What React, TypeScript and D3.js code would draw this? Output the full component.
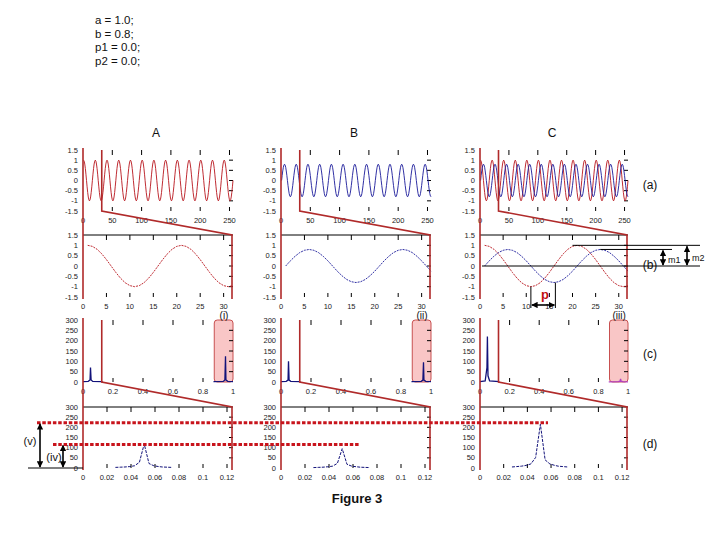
import * as d3 from 'd3';

const paramLines = ['a = 1.0;', 'b = 0.8;', 'p1 = 0.0;', 'p2 = 0.0;'];
const columnTitles = ['A', 'B', 'C'];
const rowTags = ['(a)', '(b)', '(c)', '(d)'];
const windowTags = ['(i)', '(ii)', '(iii)'];

// one period (20 samples) of each signal (b)
const redCycle = [1, 0.95, 0.81, 0.59, 0.31, 0, -0.31, -0.59, -0.81, -0.95, -1, -0.95, -0.81, -0.59, -0.31, 0, 0.31, 0.59, 0.81, 0.95];
const blueCycle = [0, 0.25, 0.47, 0.65, 0.76, 0.8, 0.76, 0.65, 0.47, 0.25, 0, -0.25, -0.47, -0.65, -0.76, -0.8, -0.76, -0.65, -0.47, -0.25];
const sampleCount = 256;
const zoomCount = 32;

const timeTicks = [0, 50, 100, 150, 200, 250];
const zoomTimeTicks = [0, 5, 10, 15, 20, 25, 30];
const ampTicks = [-1.5, -1, -0.5, 0, 0.5, 1, 1.5];
const freqTicks = [0, 0.2, 0.4, 0.6, 0.8, 1];
const zoomFreqTicks = [0, 0.02, 0.04, 0.06, 0.08, 0.1, 0.12];
const magTicks = [0, 50, 100, 150, 200, 250, 300];

// spectrum, coarse view (c)
const lowFreqs = [0, 0.035, 0.047, 0.05, 0.054, 0.065, 0.13];
const highFreqs = [0.87, 0.935, 0.946, 0.95, 0.953, 0.965, 1];
const lowMagA = [2, 3, 10, 70, 10, 3, 2];
const lowMagB = [2, 3, 9, 100, 9, 3, 2];
const lowMagC = [2, 5, 70, 220, 30, 5, 2];
const highMagA = [2, 3, 10, 125, 10, 3, 2];
const highMagB = [2, 3, 9, 95, 9, 3, 2];
const highMagC = [1, 2, 4, 15, 4, 2, 1];

// spectrum, zoomed view (d)
const peakFreqs = [0.027, 0.031, 0.035, 0.039, 0.043, 0.047, 0.051, 0.055, 0.059, 0.063, 0.066, 0.07, 0.074];
const peakMagA = [3, 4, 5, 7, 11, 28, 118, 22, 11, 7, 5, 4, 3];
const peakMagB = [2, 3, 4, 6, 9, 23, 95, 18, 9, 6, 4, 3, 2];
const peakMagC = [5, 7, 9, 13, 20, 52, 215, 40, 20, 13, 9, 7, 5];

const levelV = 222;
const levelIV = 116;

const colLeft = [83, 281, 480];
const colWidth = [150, 150, 148];
const rowTop = [150, 235, 320, 407];
const rowBottom = [211, 297, 382, 468];

const RED = '#b8141c';
const BLUE = '#1a1a9a';
const SPEC = '#12127a';
const LINK = '#b02a2a';
const tickFont = { fontFamily: 'Liberation Sans, Arial, sans-serif', fontSize: 7.5, fill: '#222' };
const labelFont = { fontFamily: 'Liberation Sans, Arial, sans-serif', fontSize: 12, fill: '#111' };

const redSeries = Array.from({ length: sampleCount }, (_, i) => redCycle[i % redCycle.length]);
const blueSeries = Array.from({ length: sampleCount }, (_, i) => blueCycle[i % blueCycle.length]);

type Scale = d3.ScaleLinear<number, number>;

function Axes({ x, y, xTicks, yTicks, topLine }: { x: Scale; y: Scale; xTicks: number[]; yTicks: number[]; topLine: boolean }) {
    const [x0, x1] = x.range();
    const [y0, y1] = y.range();
    const [d0, d1] = x.domain();
    const [v0, v1] = y.domain();
    return (
        <g>
            {topLine && <line x1={x0} x2={x1} y1={y1} y2={y1} stroke="#000" strokeWidth={1} />}
            {xTicks.map((t) => (
                <g key={'x' + t}>
                    {t > d0 && t < d1 && (
                        <>
                            <line x1={x(t)} x2={x(t)} y1={y1} y2={y1 + 5} stroke="#000" />
                            <line x1={x(t)} x2={x(t)} y1={y0} y2={y0 - 4} stroke="#000" />
                        </>
                    )}
                    <text x={x(t)} y={y0 + 12} textAnchor="middle" {...tickFont}>
                        {String(t)}
                    </text>
                </g>
            ))}
            {yTicks.map((t) => (
                <g key={'y' + t}>
                    {t > v0 && t < v1 && <line x1={x1 - 4} x2={x1} y1={y(t)} y2={y(t)} stroke="#000" />}
                    <text x={x0 - 5} y={y(t) + 2.5} textAnchor="end" {...tickFont}>
                        {String(t)}
                    </text>
                </g>
            ))}
        </g>
    );
}

export default function App() {
    const lowMags = [lowMagA, lowMagB, lowMagC];
    const highMags = [highMagA, highMagB, highMagC];
    const peakMags = [peakMagA, peakMagB, peakMagC];
    const signals = [[{ v: redSeries, c: RED }], [{ v: blueSeries, c: BLUE }], [{ v: redSeries, c: RED }, { v: blueSeries, c: BLUE }]];

    const yAmp = [0, 1].map((r) => d3.scaleLinear().domain([-1.5, 1.5]).range([rowBottom[r], rowTop[r]]));
    const yMag = [2, 3].map((r) => d3.scaleLinear().domain([0, 300]).range([rowBottom[r], rowTop[r]]));

    const columns = columnTitles.map((title, ci) => {
        const l = colLeft[ci];
        const r = l + colWidth[ci];
        const xa = d3.scaleLinear().domain([0, sampleCount]).range([l, r]);
        const xb = d3.scaleLinear().domain([0, zoomCount]).range([l, r]);
        const xc = d3.scaleLinear().domain([0, 1]).range([l, r]);
        const xd = d3.scaleLinear().domain([0, 0.125]).range([l, r]);

        const lineA = d3.line<number>().x((_, i) => xa(i + 1)).y((d) => yAmp[0](d));
        const lineB = d3.line<number>().x((_, i) => xb(i + 1)).y((d) => yAmp[1](d));
        const lineLow = d3.line<number>().x((_, i) => xc(lowFreqs[i])).y((d) => yMag[0](d));
        const lineHigh = d3.line<number>().x((_, i) => xc(highFreqs[i])).y((d) => yMag[0](d));
        const lineD = d3.line<number>().x((_, i) => xd(peakFreqs[i])).y((d) => yMag[1](d));

        return (
            <g key={title}>
                <text x={(l + r) / 2 - 2} y={137} textAnchor="middle" {...labelFont}>
                    {title}
                </text>

                {/* row (a) */}
                <Axes x={xa} y={yAmp[0]} xTicks={timeTicks} yTicks={ampTicks} topLine={false} />
                {signals[ci].map((s, k) => (
                    <path key={k} d={lineA(s.v) ?? ''} fill="none" stroke={s.c} strokeWidth={0.9} />
                ))}

                {/* row (b) */}
                <Axes x={xb} y={yAmp[1]} xTicks={zoomTimeTicks} yTicks={ampTicks} topLine />
                {signals[ci].map((s, k) => (
                    <path key={k} d={lineB(s.v.slice(0, zoomCount)) ?? ''} fill="none" stroke={s.c} strokeWidth={0.9} strokeDasharray="2 1" />
                ))}

                {/* row (c) */}
                <rect x={xc(0.875)} y={rowTop[2]} width={xc(1) - xc(0.875)} height={rowBottom[2] - rowTop[2]} rx={3} fill="#f9c6c6" stroke="#c85050" strokeWidth={1} />
                <Axes x={xc} y={yMag[0]} xTicks={freqTicks} yTicks={magTicks} topLine={false} />
                <path d={lineLow(lowMags[ci]) ?? ''} fill="none" stroke={SPEC} strokeWidth={1.3} />
                <path d={lineHigh(highMags[ci]) ?? ''} fill="none" stroke={ci === 2 ? '#b040c0' : SPEC} strokeWidth={1.3} />
                <text x={xc(0.94)} y={rowTop[2] - 1} textAnchor="middle" {...labelFont} fontSize={10}>
                    {windowTags[ci]}
                </text>

                {/* row (d) */}
                <Axes x={xd} y={yMag[1]} xTicks={zoomFreqTicks} yTicks={magTicks} topLine />
                <path d={lineD(peakMags[ci]) ?? ''} fill="none" stroke={SPEC} strokeWidth={1} strokeDasharray="3 1.2" />

                {/* zoom links, time */}
                <g fill="none" stroke={LINK} strokeWidth={1.6}>
                    <line x1={l} x2={l} y1={rowTop[0] - 2} y2={rowBottom[1] + 2} />
                    <polyline points={`${xa(zoomCount)},${rowTop[0]} ${xa(zoomCount)},${rowBottom[0]} ${r - 1},${rowTop[1]} ${r - 1},${rowBottom[1] + 2}`} />
                    <line x1={l} x2={l} y1={rowTop[2] - 2} y2={rowBottom[3] + 2} />
                    <polyline points={`${xc(0.125)},${rowTop[2]} ${xc(0.125)},${rowBottom[2]} ${r - 1},${rowTop[3]} ${r - 1},${rowBottom[3] + 2}`} />
                </g>
            </g>
        );
    });

    // annotations on column C, row (b)
    const cl = colLeft[2];
    const xbC = d3.scaleLinear().domain([0, zoomCount]).range([cl, cl + colWidth[2]]);
    const yb = yAmp[1];
    const yd = yMag[1];

    return (
        <svg width={720} height={540} style={{ display: 'block', position: 'absolute', left: 0, top: 0, background: '#fff' }}>
            <defs>
                <marker id="ah" viewBox="0 0 10 10" refX="9" refY="5" markerWidth="4" markerHeight="4" orient="auto-start-reverse">
                    <path d="M0,0 L10,5 L0,10 z" fill="#000" />
                </marker>
            </defs>

            {paramLines.map((t, i) => (
                <text key={t} x={95} y={24 + i * 13.7} fontFamily="Liberation Sans, Arial, sans-serif" fontSize={11.5} fill="#111">
                    {t}
                </text>
            ))}

            {columns}

            {rowTags.map((t, i) => (
                <text key={t} x={650} y={[189, 269, 358, 448][i]} textAnchor="middle" {...labelFont}>
                    {t}
                </text>
            ))}

            <g stroke="#000" strokeWidth={1}>
                <line x1={xbC(20)} x2={700} y1={yb(1)} y2={yb(1)} />
                <line x1={xbC(26)} x2={672} y1={yb(0.8)} y2={yb(0.8)} />
                <line x1={cl + 2} x2={700} y1={yb(0)} y2={yb(0)} />
                <line x1={xbC(11)} x2={xbC(11)} y1={yb(-1)} y2={308} />
                <line x1={xbC(16.3)} x2={xbC(16.3)} y1={yb(-0.8)} y2={308} />
                <line x1={xbC(11) + 1} x2={xbC(16.3) - 1} y1={305} y2={305} strokeWidth={1.6} markerStart="url(#ah)" markerEnd="url(#ah)" />
                <line x1={663} x2={663} y1={yb(0.8) + 1} y2={yb(0) - 1} strokeWidth={1.6} markerStart="url(#ah)" markerEnd="url(#ah)" />
                <line x1={687} x2={687} y1={yb(1) + 1} y2={yb(0) - 1} strokeWidth={1.6} markerStart="url(#ah)" markerEnd="url(#ah)" />
            </g>
            <text x={668} y={263} fontFamily="Liberation Sans, Arial, sans-serif" fontSize={9} fill="#111">
                m1
            </text>
            <text x={692} y={261} fontFamily="Liberation Sans, Arial, sans-serif" fontSize={9} fill="#111">
                m2
            </text>
            <text x={545} y={299} textAnchor="middle" fontFamily="Liberation Sans, Arial, sans-serif" fontSize={13} fontWeight="bold" fill="#c01010">
                p
            </text>

            {/* peak-level guides */}
            <g stroke="#c8141c" strokeWidth={3} strokeDasharray="3.5 1.8" fill="none">
                <line x1={37} x2={548} y1={yd(levelV)} y2={yd(levelV)} />
                <line x1={53} x2={360} y1={yd(levelIV)} y2={yd(levelIV)} />
            </g>
            <g stroke="#000" strokeWidth={1.6}>
                <line x1={28} x2={colLeft[0]} y1={yd(0)} y2={yd(0)} strokeWidth={1} />
                <line x1={40} x2={40} y1={yd(levelV) + 1} y2={yd(0) - 1} markerStart="url(#ah)" markerEnd="url(#ah)" />
                <line x1={63} x2={63} y1={yd(levelIV) + 1} y2={yd(0) - 1} markerStart="url(#ah)" markerEnd="url(#ah)" />
            </g>
            <text x={30} y={445} textAnchor="middle" {...labelFont} fontSize={11}>
                (v)
            </text>
            <text x={54} y={461} textAnchor="middle" {...labelFont} fontSize={11}>
                (iv)
            </text>

            <text x={357} y={503} textAnchor="middle" fontFamily="Liberation Sans Narrow, Arial Narrow, sans-serif" fontSize={13} fontWeight="bold" fill="#111">
                Figure 3
            </text>
        </svg>
    );
}
